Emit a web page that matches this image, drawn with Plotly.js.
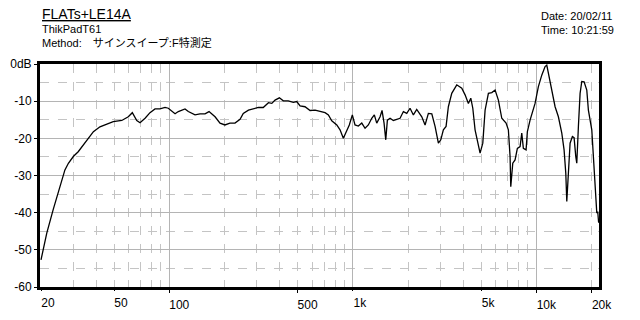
<!DOCTYPE html>
<html>
<head>
<meta charset="utf-8">
<script src="https://cdn.plot.ly/plotly-3.0.1.min.js"></script>
<style>html,body{margin:0;padding:0;background:#fff;}#chart{width:640px;height:320px;}</style>
</head>
<body>
<div id="chart"></div>
<script>
// Frequency (Hz)
const freq = [20, 21.5, 23.3, 25.4, 27.0, 28.2, 30.0, 31.9, 34.0, 36.2, 38.6, 41.9, 45.6, 49.5, 55.1, 59.8, 62.9, 66.5, 69.3, 73.8, 78.5, 83.6, 89.0, 94.8, 98.8, 103.1, 107.5, 112.0, 121.8, 127.0, 138.1, 147.1, 156.6, 164.7, 177.6, 189, 201, 214, 228, 243,
  253, 270, 287, 306, 325, 347, 362, 377, 398, 418, 445, 474, 495, 516, 549, 585, 623, 663, 706, 736, 768, 818, 852, 888, 927, 957, 994,
  1028, 1072, 1119, 1166, 1215, 1268, 1310, 1350, 1408, 1443, 1480, 1512, 1543, 1596, 1663, 1736, 1809, 1886, 1968, 2050, 2138, 2230, 2376, 2476, 2581,
  2694, 2807, 2926, 3016, 3115, 3222, 3316, 3460, 3685, 3924, 4090, 4263, 4394, 4506, 4636, 4833, 4937, 5108, 5258, 5480, 5718, 5960, 6212, 6482, 6840, 7040, 7192, 7256, 7440, 7658, 7882, 8154, 8330, 8498, 8792, 8936, 9244, 9842,
  10260, 10706, 11158, 11400, 11632, 12138, 12652, 13188, 13762, 14164, 14470, 14654, 14950, 15272, 15720, 16056, 16404, 16610, 16950, 17314, 17688, 18204, 18830, 19214, 20050, 20456, 20900, 21348, 21600, 21850];
// Level (dB)
const level = [-52.7, -45.5, -39.2, -33.0, -28.5, -26.7, -24.9, -23.6, -21.8, -20.0, -18.2, -16.9, -16.1, -15.5, -15.2, -14.2, -13.1, -15.2, -15.8, -14.6, -13.1, -12.1, -12.1, -11.7, -11.9, -12.8, -13.4, -12.8, -12.1, -12.8, -13.7, -13.4, -13.4, -12.8, -14.2, -15.9, -16.4, -15.9, -15.9, -14.9,
  -13.3, -12.4, -12.1, -11.7, -11.7, -10.4, -10.6, -9.7, -9.1, -9.9, -9.9, -10.3, -10.1, -11.3, -11.5, -12.5, -12.4, -12.8, -13.1, -13.7, -15.3, -16.4, -17.7, -20.0, -17.7, -16.4, -13.7,
  -16.4, -16.7, -15.9, -17.3, -16.4, -14.6, -13.7, -15.9, -14.2, -12.5, -15.9, -20.4, -15.1, -14.6, -15.2, -14.9, -14.6, -12.8, -13.3, -11.9, -13.7, -12.2, -14.2, -16.4, -13.3,
  -13.4, -16.8, -21.3, -20.4, -17.7, -16.8, -11.5, -7.9, -5.6, -6.5, -8.3, -10.6, -9.2, -11.9, -17.7, -22.2, -24.0, -21.3, -12.4, -7.9, -7.7, -7.0, -9.7, -14.6, -15.9, -17.7, -24.9, -33.0, -26.7, -25.8, -22.7, -22.2, -18.6, -22.7, -23.1, -18.2, -15.1, -10.6,
  -6.1, -3.0, -0.7, -0.3, -2.5, -7.0, -11.5, -14.2, -18.6, -23.1, -29.4, -37.0, -28.5, -21.3, -19.5, -19.8, -24.9, -26.7, -16.8, -7.9, -4.7, -4.8, -7.0, -12.4, -17.7, -24.9, -33.0, -40.1, -39.7, -42.7];

// tick labels (3-character and 2-character groups)
const xLabelVals3 = [100, 500, 10000, 20000];
const xLabelText3 = ['100', '500', '10k', '20k'];
const xLabelVals2 = [20, 50, 1000, 5000];
const xLabelText2 = ['20', '50', '1k', '5k'];
// grid positions
const xSolidGrid = [100, 1000, 10000];
const xDashGrid = [30, 40, 50, 60, 70, 80, 90, 200, 300, 400, 500, 600, 700, 800, 900, 2000, 3000, 4000, 5000, 6000, 7000, 8000, 9000, 20000];
const yTickVals = [-60, -50, -40, -30, -20, -10, 0];
const yTickText = ['-60', '-50', '-40', '-30', '-20', '-10', '0dB'];
const yDashGrid = [-55, -45, -35, -25, -15, -5];

const FL = '"Liberation Sans", Arial, sans-serif';
const FJ = '"Liberation Sans", "Noto Sans CJK JP", sans-serif';
const xRange = [Math.log10(19.75), Math.log10(21950)];
const tf = {family: FL, size: 12, color: '#000'};

const traces = [
  {x: freq, y: level, type: 'scatter', mode: 'lines', line: {color: '#000', width: 1.3}, hoverinfo: 'skip'},
  {x: [], y: [], type: 'scatter', mode: 'lines', xaxis: 'x2', yaxis: 'y', hoverinfo: 'skip'}
];

const layout = {
  width: 640, height: 320,
  margin: {l: 40, r: 41, t: 64, b: 33},
  paper_bgcolor: '#fff', plot_bgcolor: '#fff',
  showlegend: false,
  font: {family: FL, size: 12, color: '#000'},
  xaxis: {type: 'log', range: xRange, tickmode: 'array', tickvals: xLabelVals3, ticktext: xLabelText3,
    showgrid: false, zeroline: false,
    minor: {tickmode: 'array', tickvals: xDashGrid, showgrid: true, gridcolor: '#c4c4c4', griddash: 'dash', gridwidth: 1, ticks: ''},
    showline: true, linecolor: '#000', linewidth: 3, mirror: true,
    ticks: 'outside', ticklen: 3, tickcolor: '#000', tickfont: tf,
    ticklabelshift: 10, ticklabelstandoff: 2},
  xaxis2: {type: 'log', range: xRange, overlaying: 'x', anchor: 'y', side: 'bottom',
    tickmode: 'array', tickvals: xLabelVals2, ticktext: xLabelText2, showgrid: false, zeroline: false,
    minor: {tickmode: 'array', tickvals: xSolidGrid, showgrid: true, gridcolor: '#b4b4b4', gridwidth: 1, ticks: ''},
    showline: false, ticks: 'outside', ticklen: 3, tickcolor: '#000', tickfont: tf,
    ticklabelshift: 7, ticklabelstandoff: 2},
  yaxis: {range: [-60, 0], tickmode: 'array', tickvals: yTickVals, ticktext: yTickText,
    showgrid: true, gridcolor: '#b4b4b4', gridwidth: 1, zeroline: false,
    minor: {tickmode: 'array', tickvals: yDashGrid, showgrid: true, gridcolor: '#c4c4c4', griddash: 'dash', gridwidth: 1, ticks: ''},
    showline: true, linecolor: '#000', linewidth: 3, mirror: true,
    ticks: 'outside', ticklen: 3, tickcolor: '#000', tickfont: tf},
  annotations: [
    {text: '<u>FLATs+LE14A</u>', xref: 'paper', yref: 'paper', x: 0, y: 1.226, xanchor: 'left', yanchor: 'middle', showarrow: false, font: {family: FL, size: 14, color: '#000'}},
    {text: 'ThikPadT61<br>Method:\u3000サインスイープ:F特測定', xref: 'paper', yref: 'paper', x: 0, y: 1.124, xanchor: 'left', yanchor: 'middle', align: 'left', showarrow: false, font: {family: FJ, size: 11, color: '#000'}},
    {text: 'Date: 20/02/11<br>Time: 10:21:59', xref: 'paper', yref: 'paper', x: 0.8927, y: 1.183, xanchor: 'left', yanchor: 'middle', align: 'left', showarrow: false, font: {family: FL, size: 11, color: '#000'}}
  ]
};

Plotly.newPlot('chart', traces, layout, {staticPlot: true, displayModeBar: false});
</script>
</body>
</html>
